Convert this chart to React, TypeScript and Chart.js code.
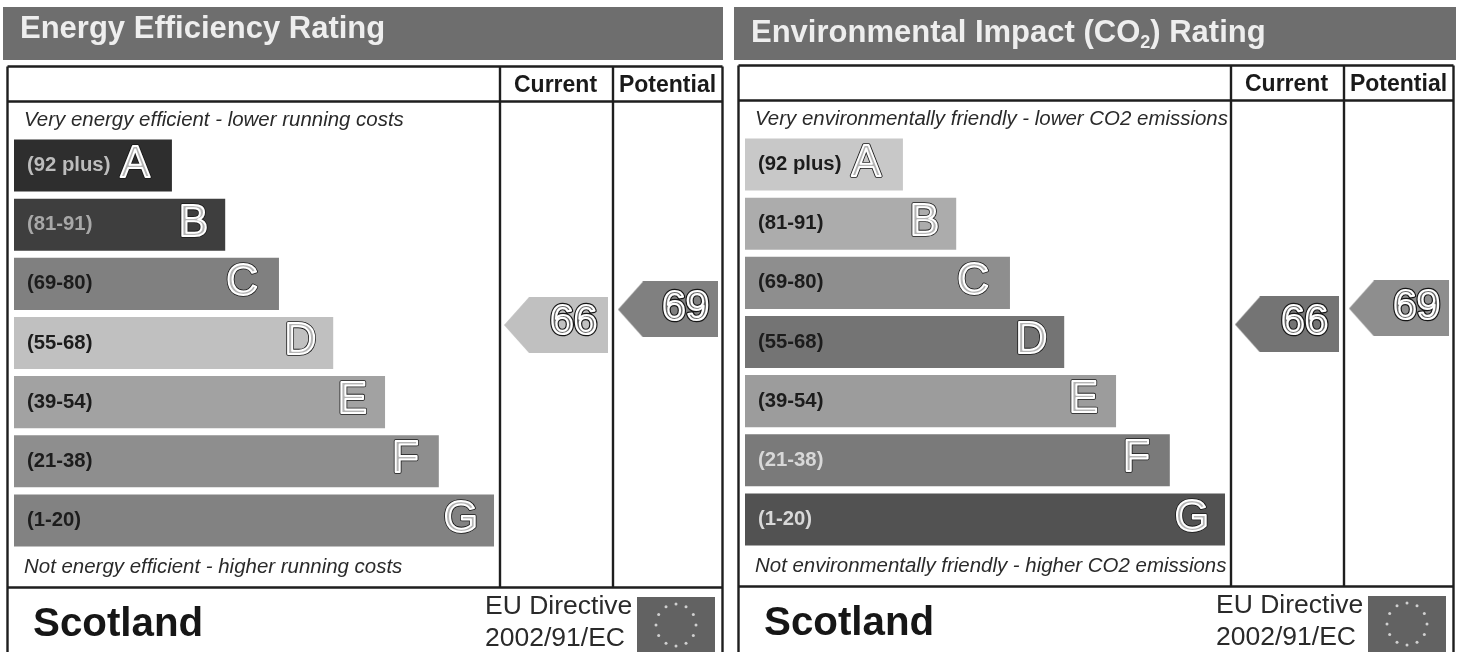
import React, { useEffect, useRef } from "react";
import { Chart, registerables } from "chart.js";

Chart.register(...registerables);

const bandLetters = ["A", "B", "C", "D", "E", "F", "G"];
const bandRanges = ["(92 plus)", "(81-91)", "(69-80)", "(55-68)", "(39-54)", "(21-38)", "(1-20)"];
const bandLengths = [32.9, 44, 55.2, 66.5, 77.3, 88.5, 100];
const columnLabels = ["Current", "Potential"];
const efficiencyRatings = [66, 69];
const impactRatings = [66, 69];
const efficiencyColors = ["#2e2e2e", "#3e3e3e", "#808080", "#c0c0c0", "#a2a2a2", "#8e8e8e", "#828282"];
const impactColors = ["#c8c8c8", "#acacac", "#8e8e8e", "#747474", "#9c9c9c", "#7a7a7a", "#525252"];
const efficiencyTickColors = ["#bdbdbd", "#a8a8a8", "#1c1c1c", "#1c1c1c", "#1c1c1c", "#1c1c1c", "#1c1c1c"];
const impactTickColors = ["#1c1c1c", "#1c1c1c", "#1c1c1c", "#1c1c1c", "#1c1c1c", "#d8d8d8", "#d8d8d8"];
const efficiencyArrowColors = ["#c0c0c0", "#808080"];
const impactArrowColors = ["#747474", "#8e8e8e"];

const FONT = '"Liberation Sans", Arial, sans-serif';
const LETTER_INSET = [22, 17, 21, 17, 18, 20, 16];

function arrowImage(width: number, height: number, color: string) {
  const c = document.createElement("canvas");
  c.width = width;
  c.height = height;
  const g = c.getContext("2d")!;
  g.fillStyle = color;
  g.beginPath();
  g.moveTo(0, height / 2);
  g.lineTo(25, 0);
  g.lineTo(width, 0);
  g.lineTo(width, height);
  g.lineTo(25, height);
  g.closePath();
  g.fill();
  return c;
}

function hollow(ctx: CanvasRenderingContext2D, text: string, x: number, y: number, font: string, outer: number, inner: number, core: string) {
  ctx.font = font;
  ctx.lineJoin = "round";
  ctx.lineWidth = outer;
  ctx.strokeStyle = "#161616";
  ctx.fillStyle = core;
  ctx.strokeText(text, x, y);
  ctx.fillText(text, x, y);
  ctx.lineWidth = inner;
  ctx.strokeStyle = "#ffffff";
  ctx.strokeText(text, x, y);
}

type Panel = {
  title: string[];
  titleY: number;
  bandTop: number;
  top: string;
  bottom: string;
  ratings: number[];
  colors: string[];
  tickColors: string[];
  arrowColors: string[];
  bandWidth: number;
  ratingMin: number;
  ratingMax: number;
};

function makePlugin(p: Panel) {
  return {
    id: "epcFrame",
    beforeDatasetsDraw(chart: any) {
      const ctx: CanvasRenderingContext2D = chart.ctx;
      ctx.save();
      ctx.fillStyle = "#ffffff";
      ctx.fillRect(0, 0, chart.width, chart.height);
      ctx.fillStyle = "#6e6e6e";
      ctx.fillRect(3, p.bandTop, p.bandWidth, 53);

      ctx.strokeStyle = "#1e1e1e";
      ctx.lineWidth = 2.4;
      const xs = chart.scales.xCols;
      const colA = 500;
      const colB = 613;
      ctx.beginPath();
      ctx.moveTo(7.5, 66.5); ctx.lineTo(722.5, 66.5);
      ctx.moveTo(7.5, 101.5); ctx.lineTo(722.5, 101.5);
      ctx.moveTo(7.5, 587.5); ctx.lineTo(722.5, 587.5);
      ctx.moveTo(7.5, 66.5); ctx.lineTo(7.5, 660);
      ctx.moveTo(722.5, 66.5); ctx.lineTo(722.5, 660);
      ctx.moveTo(colA, 66.5); ctx.lineTo(colA, 587.5);
      ctx.moveTo(colB, 66.5); ctx.lineTo(colB, 587.5);
      ctx.stroke();

      ctx.textBaseline = "alphabetic";
      ctx.textAlign = "left";
      ctx.fillStyle = "#eeeeee";
      let tx = 20;
      p.title.forEach((part, i) => {
        const sub = p.title.length > 1 && i === 1;
        ctx.font = sub ? `bold 18px ${FONT}` : `bold 31px ${FONT}`;
        ctx.fillText(part, tx, p.titleY + (sub ? 6 : 0));
        tx += ctx.measureText(part).width;
      });

      ctx.fillStyle = "#1a1a1a";
      ctx.font = `bold 23px ${FONT}`;
      ctx.textAlign = "center";
      columnLabels.forEach((label, i) => ctx.fillText(label, xs.getPixelForValue(i) - 0.5, 92));

      ctx.textAlign = "left";
      ctx.fillStyle = "#2a2a2a";
      ctx.font = `italic 20.45px ${FONT}`;
      ctx.fillText(p.top, 24, 126);
      ctx.fillText(p.bottom, 24, 573);

      ctx.fillStyle = "#161616";
      ctx.font = `bold 40.3px ${FONT}`;
      ctx.fillText("Scotland", 33, 636);
      ctx.fillStyle = "#2a2a2a";
      ctx.font = `26.5px ${FONT}`;
      ctx.fillText("EU Directive", 485, 614);
      ctx.fillText("2002/91/EC", 485, 646);

      ctx.fillStyle = "#626262";
      ctx.fillRect(637, 597, 78, 60);
      ctx.fillStyle = "#d0d0d0";
      for (let i = 0; i < 12; i++) {
        const a = (i * Math.PI) / 6;
        ctx.beginPath();
        ctx.arc(676 + 20 * Math.sin(a), 625 - 21 * Math.cos(a), 1.5, 0, Math.PI * 2);
        ctx.fill();
      }
      ctx.restore();
    },
    afterDatasetsDraw(chart: any) {
      const ctx: CanvasRenderingContext2D = chart.ctx;
      ctx.save();
      ctx.textBaseline = "middle";
      ctx.textAlign = "right";
      const bars = chart.getDatasetMeta(0).data;
      bars.forEach((bar: any, i: number) => {
        hollow(ctx, bandLetters[i], bar.x - LETTER_INSET[i], bar.y - 1, `44px ${FONT}`, 3.6, 2, "#b4b4b4");
      });
      const pts = chart.getDatasetMeta(1).data;
      pts.forEach((pt: any, i: number) => {
        hollow(ctx, String(p.ratings[i]), pt.x + 41, pt.y + (i === 0 ? -2.5 : -1.5), `42px ${FONT}`, 4.6, 2.2, "#666666");
      });
      ctx.restore();
    },
  };
}

function PanelChart({ panel, left, top }: { panel: Panel; left: number; top: number }) {
  const ref = useRef<HTMLCanvasElement>(null);
  useEffect(() => {
    const chart = new Chart(ref.current!, {
      type: "bar",
      data: {
        labels: bandRanges,
        datasets: [
          {
            type: "bar",
            indexAxis: "y",
            data: bandLengths,
            backgroundColor: panel.colors,
            barPercentage: 1,
            categoryPercentage: 0.88,
            grouped: false,
            xAxisID: "x",
            yAxisID: "y",
          } as any,
          {
            type: "scatter",
            indexAxis: "x",
            data: panel.ratings.map((r, i) => ({ x: i, y: r })),
            xAxisID: "xCols",
            yAxisID: "yRating",
            pointRadius: 10,
            pointStyle: [
              arrowImage(104, 56, panel.arrowColors[0]),
              arrowImage(100, 56, panel.arrowColors[1]),
            ],
            clip: false,
          } as any,
        ],
      },
      options: {
        indexAxis: "y",
        animation: false,
        responsive: false,
        layout: { padding: { left: 14, right: 7, top: 136, bottom: 103 } },
        plugins: { legend: { display: false }, tooltip: { enabled: false }, title: { display: false } },
        scales: {
          x: { type: "linear", display: false, min: 0, max: 147.08 },
          y: {
            type: "category",
            offset: true,
            grid: { display: false, drawTicks: false },
            border: { display: false },
            afterFit: (s: any) => { s.width = 0; },
            ticks: {
              mirror: true,
              z: 1,
              padding: 13,
              autoSkip: false,
              font: { family: FONT, weight: "bold", size: 20.3 },
              color: (c: any) => panel.tickColors[c.index],
            },
          },
          xCols: { type: "linear", axis: "x", display: false, offset: false, min: -4.839, max: 1.464 },
          yRating: { type: "linear", axis: "y", display: false, offset: false, min: panel.ratingMin, max: panel.ratingMax },
        },
      } as any,
      plugins: [makePlugin(panel)],
    } as any);
    return () => chart.destroy();
  }, [panel]);
  return (
    <canvas
      ref={ref}
      width={731}
      height={653}
      style={{ position: "absolute", left, top, width: 731, height: 653, filter: "blur(0.6px)" }}
    />
  );
}

const efficiencyPanel: Panel = {
  title: ["Energy Efficiency Rating"],
  titleY: 38,
  bandTop: 7,
  top: "Very energy efficient - lower running costs",
  bottom: "Not energy efficient - higher running costs",
  ratings: efficiencyRatings,
  colors: efficiencyColors,
  tickColors: efficiencyTickColors,
  arrowColors: efficiencyArrowColors,
  bandWidth: 720,
  ratingMin: 22.48,
  ratingMax: 102.56,
};

const impactPanel: Panel = {
  title: ["Environmental Impact (CO", "2", ") Rating"],
  titleY: 43,
  bandTop: 8,
  top: "Very environmentally friendly - lower CO2 emissions",
  bottom: "Not environmentally friendly - higher CO2 emissions",
  ratings: impactRatings,
  colors: impactColors,
  tickColors: impactTickColors,
  arrowColors: impactArrowColors,
  bandWidth: 722,
  ratingMin: 23.88,
  ratingMax: 101.55,
};

export default function App() {
  useEffect(() => {
    document.body.style.margin = "0";
    document.body.style.overflow = "hidden";
    document.body.style.background = "#ffffff";
  }, []);
  return (
    <div style={{ position: "absolute", left: 0, top: 0, width: 1462, height: 652, overflow: "hidden", background: "#fff" }}>
      <PanelChart panel={efficiencyPanel} left={0} top={0} />
      <PanelChart panel={impactPanel} left={731} top={-1} />
    </div>
  );
}
